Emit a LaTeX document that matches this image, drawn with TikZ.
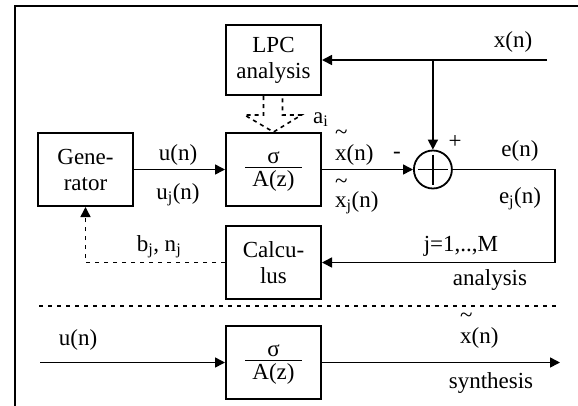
\documentclass[tikz,border=0pt]{standalone}
\usepackage{fontspec}
\setmainfont{Liberation Serif}
\usetikzlibrary{arrows.meta,positioning}
\newcommand{\tld}[1]{\rlap{\smash{\raisebox{#1}{\textasciitilde}}}}
\newcommand{\sigfrac}{\setlength{\arrayrulewidth}{1.3pt}%
  \begin{tabular}{@{\hspace{7pt}}c@{\hspace{7pt}}}σ\\[-4pt]\hline A(z)\end{tabular}}

\begin{document}
\begin{tikzpicture}[
  x=1pt, y=-1pt,
  font=\fontsize{23pt}{26pt}\selectfont,
  blk/.style={draw, line width=2pt, minimum width=95pt, minimum height=73pt,
              align=center, inner sep=0pt},
  sumnode/.style={circle, draw, line width=1.8pt, minimum size=38pt, inner sep=0pt,
              path picture={\draw[line width=1.8pt]
                ([xshift=4pt]path picture bounding box.west) -- ([xshift=-4pt]path picture bounding box.east)
                ([yshift=-4pt]path picture bounding box.north) -- ([yshift=4pt]path picture bounding box.south);}},
  lbl/.style={anchor=base, inner sep=0pt},
  arr/.style={line width=1.6pt, -{Triangle[length=10pt,width=10pt]}},
  dotarr/.style={arr, dash pattern=on 4pt off 5pt},
  dashblk/.style={line width=1.6pt, dash pattern=on 4pt off 4pt},
  sepline/.style={line width=1.6pt, dash pattern=on 4pt off 5pt},
  every edge/.style={draw, arr}
]
\useasboundingbox (0,0) rectangle (578,405);
\draw[line width=2.8pt] (578,6) -- (15,6) -- (15,406);

\node[blk] (gen) at (85.5,169.5) {Gene-\\rator};
\node[blk, right=91pt of gen] (filt) {\sigfrac};
\node[blk, minimum height=70pt, above=36pt of filt] (lpc) {LPC\\analysis};
\node[blk, below=18pt of filt] (calc) {Calcu-\\lus};
\node[sumnode, right=91pt of filt] (sum) {};
\node[blk, below=25pt of calc] (syn) {\sigfrac};

\coordinate (xin) at ([xshift=225pt]lpc.east);
\coordinate (br) at (sum |- xin);
\coordinate (ecor) at ([xshift=102pt]sum.east);
\coordinate (uin) at ([xshift=-185pt]syn.west);
\coordinate (xout) at ([xshift=238pt]syn.east);

\path (xin) edge (lpc.east)
      (br) edge (sum)
      (gen) edge (filt)
      (filt) edge (sum)
      (uin) edge (syn)
      (syn) edge (xout);
\draw[arr] (sum.east) -- (ecor) |- (calc.east);
\draw[dotarr] (calc.west) -| (gen.south);
\draw[dashblk] ([xshift=-10pt]lpc.south) -- ++(0,19) -- ++(-19,0) -- (filt.north)
  -- ++(28,-17) -- ++(-19,0) -- ++(0,-19);
\draw[sepline] (39,306) -- (556,306);

\node[lbl] (un) at (178,160) {u(n)};
\node[lbl] (ujn) at (178,199) {u\textsubscript{j}(n)};
\node[lbl] (xn) at (513,47) {x(n)};
\node[lbl, anchor=base west] (ai) at (313,123) {a\textsubscript{i}};
\node[lbl, anchor=base west] (xtn) at (335,160) {\tld{21pt}x(n)};
\node[lbl, anchor=base west] (xtjn) at (335,207) {\tld{19pt}x\textsubscript{j}(n)};
\node[lbl] (minus) at (397,158) {-};
\node[lbl] (plus) at (455,148) {+};
\node[lbl] (en) at (520,156) {e(n)};
\node[lbl] (ejn) at (520,203) {e\textsubscript{j}(n)};
\node[lbl] (bn) at (159,251) {b\textsubscript{j}, n\textsubscript{j}};
\node[lbl] (jm) at (461,251) {j=1,..,M};
\node[lbl] (ana) at (490,285) {analysis};
\node[lbl] (un2) at (78,345) {u(n)};
\node[lbl, anchor=base west] (xtn2) at (460,343) {\tld{21pt}x(n)};
\node[lbl] (synlbl) at (491,388) {synthesis};
\end{tikzpicture}
\end{document}
